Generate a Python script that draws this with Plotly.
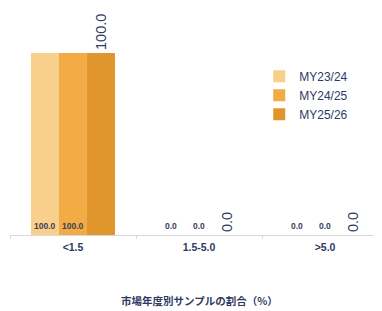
import plotly.graph_objects as go

categories = ["<1.5", "1.5-5.0", ">5.0"]
series_names = ["MY23/24", "MY24/25", "MY25/26"]
my2324 = [100.0, 0.0, 0.0]
my2425 = [100.0, 0.0, 0.0]
my2526 = [100.0, 0.0, 0.0]
x_title = "市場年度別サンプルの割合（%）"

colors = ["#F8CF8B", "#F2AB45", "#E1962D"]
navy = "#2E3A62"
label_col = "#3A4058"
LAT = "Arial, 'Liberation Sans', sans-serif"

fig = go.Figure()
all_vals = [my2324, my2425, my2526]
for i, (name, vals) in enumerate(zip(series_names, all_vals)):
    if i < 2:
        fig.add_trace(go.Bar(x=categories, y=vals, name=name, marker_color=colors[i],
                             marker_line_width=0))
    else:
        fig.add_trace(go.Bar(x=categories, y=vals, name=name, marker_color=colors[i],
                             marker_line_width=0,
                             text=[f"{v:.1f}" for v in vals], textposition="outside",
                             textangle=-90, constraintext="none", cliponaxis=False,
                             textfont=dict(family=LAT, size=14.5, color=navy)))

# small base labels for first two series
annotations = []
for i in range(2):
    for c, v in zip(categories, all_vals[i]):
        annotations.append(dict(x=c, y=0, xref="x", yref="y", text=f"{v:.1f}",
                                showarrow=False, yanchor="bottom", yshift=2,
                                xshift=(-28 if i == 0 else 0),
                                font=dict(family=LAT, size=8.5, color=label_col, weight="bold")))
annotations.append(dict(x=categories[1], y=0, xref="x", yref="paper", yanchor="middle",
                        yshift=-65, text=x_title, showarrow=False,
                        font=dict(family="'Noto Sans CJK JP', sans-serif", size=10.5,
                                  color=navy, weight="bold")))

fig.update_layout(
    width=374, height=303,
    margin=dict(l=2, r=0, t=2, b=76),
    paper_bgcolor="white", plot_bgcolor="white",
    barmode="group", bargap=0.333, bargroupgap=0,
    showlegend=True,
    legend=dict(x=0.67, y=0.77, xanchor="left", yanchor="top",
                font=dict(family=LAT, size=12, color=navy),
                itemwidth=30, tracegroupgap=0, bgcolor="rgba(0,0,0,0)"),
    annotations=annotations,
    xaxis=dict(range=[-0.5, 2.452], showgrid=False, showline=True, linecolor="#D9D9D9",
               linewidth=1, ticks="outside", tickson="boundaries", ticklen=3,
               tickcolor="#D9D9D9", ticklabelstandoff=2,
               tickfont=dict(family=LAT, size=10.5, color=navy, weight="bold"),
               fixedrange=True),
    yaxis=dict(range=[0, 123.6], visible=False, showgrid=False, fixedrange=True),
)

fig.write_html("out.html")
